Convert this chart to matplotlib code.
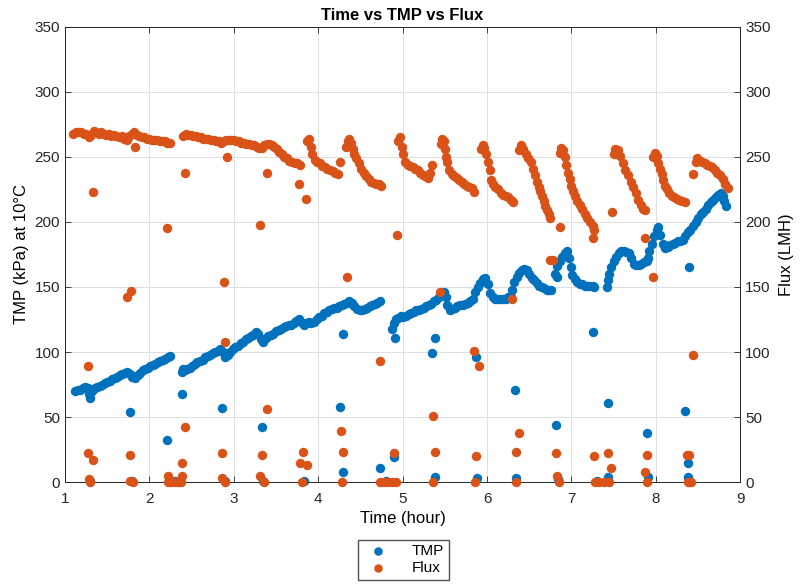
import numpy as np
import matplotlib.pyplot as plt

plt.rcParams['font.family'] = ['Liberation Sans', 'DejaVu Sans']

# TMP (kPa at 10C) - main trace, one list per run between cleanings
tmp_t1 = [1.12, 1.15, 1.18, 1.21, 1.24, 1.27, 1.29, 1.30, 1.32, 1.35, 1.38, 1.41, 1.44, 1.47, 1.50,
          1.53, 1.56, 1.59, 1.62, 1.65, 1.68, 1.71, 1.74, 1.77, 1.80, 1.83, 1.86, 1.89, 1.92, 1.95,
          1.98, 2.01, 2.04, 2.07, 2.10, 2.13, 2.16, 2.19, 2.22, 2.24]
tmp_v1 = [70, 71, 71, 72, 73, 72, 68, 65, 70, 72, 73, 74, 75, 76, 77,
          78, 79, 80, 81, 82, 83, 84, 85, 83, 81, 80, 82, 84, 86, 87,
          88, 89, 90, 91, 92, 93, 94, 95, 96, 97]

tmp_t2 = [2.39, 2.40, 2.42, 2.45, 2.48, 2.51, 2.54, 2.57, 2.60, 2.63, 2.66, 2.69, 2.72, 2.75, 2.78,
          2.81, 2.84, 2.87, 2.90, 2.93, 2.96, 2.99, 3.02, 3.05, 3.08, 3.11, 3.14, 3.17, 3.20, 3.23,
          3.26, 3.29, 3.32, 3.35, 3.38, 3.41, 3.44, 3.47, 3.50, 3.53, 3.56, 3.59, 3.62, 3.65, 3.68,
          3.71, 3.74, 3.77, 3.80, 3.83, 3.86, 3.89, 3.92, 3.95, 3.98, 4.01, 4.04, 4.07, 4.10, 4.13,
          4.16, 4.19, 4.22, 4.25, 4.28, 4.31, 4.34, 4.37, 4.40, 4.43, 4.46, 4.49, 4.52, 4.55, 4.58,
          4.61, 4.64, 4.67, 4.70, 4.73]
tmp_v2 = [85, 87, 86, 87, 88, 89, 91, 92, 93, 94, 96, 97, 98, 99, 100,
          101, 102, 100, 96, 98, 100, 102, 104, 105, 107, 108, 110, 111, 112, 113,
          115, 114, 110, 108, 111, 112, 113, 114, 116, 117, 118, 119, 120, 121, 121,
          122, 124, 125, 123, 121, 122, 123, 122, 123, 125, 127, 128, 130, 131, 132,
          133, 134, 134, 135, 136, 137, 138, 139, 138, 135, 133, 132, 132, 133, 134,
          135, 136, 137, 138, 139]

tmp_t3 = [4.88, 4.90, 4.92, 4.95, 4.98, 5.01, 5.04, 5.07, 5.10, 5.13, 5.16, 5.19, 5.22, 5.25, 5.28,
          5.31, 5.34, 5.37, 5.40, 5.43, 5.46, 5.49, 5.51, 5.53, 5.56, 5.59, 5.62, 5.65, 5.68, 5.71,
          5.74, 5.77, 5.80, 5.83, 5.86, 5.89, 5.92, 5.95, 5.98, 6.01, 6.04, 6.07, 6.10, 6.13, 6.16,
          6.19, 6.22, 6.25, 6.28, 6.30, 6.32, 6.35, 6.38, 6.41, 6.44, 6.47, 6.50, 6.53, 6.56, 6.59,
          6.62, 6.65, 6.68, 6.71, 6.74, 6.76]
tmp_v3 = [118, 122, 125, 126, 128, 127, 128, 129, 130, 131, 132, 132, 133, 134, 135,
          136, 137, 139, 140, 142, 144, 146, 142, 136, 132, 133, 134, 135, 136, 136,
          137, 138, 139, 141, 146, 150, 153, 156, 157, 152, 145, 142, 141, 141, 141,
          141, 141, 142, 142, 148, 154, 158, 161, 163, 164, 163, 160, 157, 155, 153,
          151, 150, 149, 148, 148, 148]

tmp_t4 = [6.80, 6.83, 6.86, 6.89, 6.92, 6.95, 6.97, 6.99, 7.01, 7.04, 7.07, 7.10, 7.13, 7.16, 7.19,
          7.22, 7.25, 7.27]
tmp_v4 = [160, 166, 170, 173, 176, 178, 172, 165, 159, 156, 154, 152, 152, 151, 151,
          151, 151, 150]

tmp_t5 = [7.42, 7.43, 7.45, 7.47, 7.50, 7.53, 7.56, 7.59, 7.62, 7.65, 7.68, 7.71, 7.74, 7.77, 7.80,
          7.83, 7.86, 7.89, 7.91]
tmp_v5 = [150, 155, 160, 165, 170, 173, 176, 178, 178, 177, 176, 172, 168, 167, 167,
          168, 169, 170, 172]

tmp_t6 = [7.92, 7.95, 7.98, 8.01, 8.03, 8.05, 8.08, 8.11, 8.14, 8.17, 8.20, 8.23, 8.26, 8.29, 8.32,
          8.35, 8.38, 8.41, 8.44, 8.47, 8.50, 8.53, 8.56, 8.59, 8.62, 8.65, 8.68, 8.71, 8.74, 8.77,
          8.79, 8.81, 8.83]
tmp_v6 = [178, 183, 189, 194, 196, 190, 183, 180, 181, 182, 183, 184, 185, 185, 186,
          189, 192, 194, 197, 200, 203, 206, 208, 210, 213, 215, 217, 219, 221, 222,
          220, 216, 212]

# TMP readings during backwash / restarts
tmp_out_t = [1.77, 2.21, 2.39, 2.86, 3.33, 4.26, 4.29, 4.29, 4.73, 4.90, 4.91, 5.35, 5.38, 5.38,
             5.87, 5.88, 6.33, 6.34, 6.82, 6.83, 7.26, 7.43, 7.43, 7.90, 7.91, 8.35, 8.38, 8.38,
             8.39, 1.30, 1.80, 2.30, 2.90, 3.35, 3.83, 4.80, 6.84, 7.30]
tmp_out_v = [54, 32, 68, 57, 42, 58, 114, 8, 11, 19, 111, 99, 111, 4,
             96, 3, 71, 3, 44, 158, 115, 61, 4, 38, 4, 55, 15, 4,
             165, 1, 1, 1, 1, 1, 1, 1, 2, 1]

# Flux (LMH) - main trace
flux_t1 = [1.10, 1.13, 1.16, 1.19, 1.22, 1.25, 1.28, 1.31, 1.34, 1.37, 1.40, 1.43, 1.46, 1.49, 1.52,
           1.55, 1.58, 1.61, 1.64, 1.67, 1.70, 1.73, 1.76, 1.79, 1.82, 1.85, 1.88, 1.91, 1.94, 1.97,
           2.00, 2.03, 2.06, 2.09, 2.12, 2.15, 2.18, 2.21, 2.24]
flux_v1 = [268, 269, 269, 269, 268, 268, 265, 267, 270, 269, 268, 269, 268, 267, 268,
           266, 267, 266, 265, 266, 264, 263, 266, 268, 269, 267, 266, 265, 265, 264,
           264, 263, 263, 263, 262, 262, 262, 261, 261]

flux_t2 = [2.40, 2.43, 2.46, 2.49, 2.52, 2.55, 2.58, 2.61, 2.64, 2.67, 2.70, 2.73, 2.76, 2.79, 2.82,
           2.85, 2.88, 2.91, 2.94, 2.97, 3.00, 3.03, 3.06, 3.09, 3.12, 3.15, 3.18, 3.21, 3.24, 3.27,
           3.30, 3.33, 3.36, 3.39, 3.42, 3.45, 3.48, 3.51, 3.54, 3.57, 3.60, 3.63, 3.66, 3.69, 3.72,
           3.75, 3.78]
flux_v2 = [266, 268, 267, 267, 266, 266, 265, 265, 264, 264, 264, 263, 263, 262, 262,
           261, 262, 263, 263, 263, 263, 262, 262, 261, 261, 260, 260, 259, 259, 258,
           257, 257, 259, 260, 260, 259, 258, 256, 254, 252, 250, 249, 247, 246, 245,
           245, 244]

flux_t3 = [3.87, 3.89, 3.91, 3.93, 3.96, 3.99, 4.02, 4.05, 4.08, 4.11, 4.14, 4.17, 4.20, 4.23]
flux_v3 = [262, 264, 258, 252, 248, 246, 245, 243, 242, 241, 240, 239, 238, 237]

flux_t4 = [4.33, 4.35, 4.37, 4.39, 4.41, 4.43, 4.45, 4.48, 4.51, 4.54, 4.57, 4.60, 4.63, 4.66, 4.69,
           4.72, 4.74]
flux_v4 = [258, 262, 264, 261, 256, 252, 249, 245, 241, 238, 235, 233, 231, 230, 229,
           229, 228]

flux_t5 = [4.95, 4.97, 4.99, 5.01, 5.03, 5.06, 5.09, 5.12, 5.15, 5.18, 5.21, 5.24, 5.27, 5.30, 5.33,
           5.35]
flux_v5 = [262, 265, 258, 252, 246, 244, 243, 242, 241, 240, 238, 236, 235, 234, 238,
           244]

flux_t6 = [5.45, 5.47, 5.49, 5.50, 5.51, 5.53, 5.55, 5.58, 5.61, 5.64, 5.67, 5.70, 5.73, 5.76, 5.79,
           5.82, 5.84]
flux_v6 = [260, 264, 262, 256, 250, 246, 240, 237, 235, 234, 232, 231, 229, 228, 227,
           226, 223]

flux_t7 = [5.93, 5.95, 5.97, 5.99, 6.01, 6.03, 6.05, 6.07, 6.10, 6.13, 6.16, 6.19, 6.22, 6.25, 6.28,
           6.31]
flux_v7 = [256, 259, 257, 252, 246, 240, 232, 229, 227, 225, 222, 221, 220, 219, 217,
           215]

flux_t8 = [6.38, 6.40, 6.43, 6.46, 6.49, 6.52, 6.55, 6.57, 6.59, 6.61, 6.63, 6.65, 6.67, 6.69, 6.71,
           6.73, 6.75]
flux_v8 = [255, 259, 256, 252, 249, 246, 241, 236, 231, 227, 224, 220, 216, 212, 209,
           206, 203]

flux_t9 = [6.86, 6.88, 6.90, 6.92, 6.94, 6.96, 6.98, 7.00, 7.02, 7.04, 7.07, 7.10, 7.13, 7.16, 7.19,
           7.22, 7.25, 7.27]
flux_v9 = [253, 257, 255, 250, 244, 238, 233, 228, 224, 220, 216, 213, 210, 206, 203,
           200, 197, 194]

flux_t10 = [7.50, 7.52, 7.55, 7.58, 7.61, 7.64, 7.67, 7.70, 7.73, 7.76, 7.79, 7.82, 7.85, 7.87]
flux_v10 = [252, 256, 255, 251, 245, 240, 236, 231, 227, 222, 217, 213, 210, 209]

flux_t11 = [7.97, 7.99, 8.01, 8.03, 8.05, 8.07, 8.09, 8.11, 8.13, 8.16, 8.19, 8.22, 8.25, 8.28, 8.31,
            8.34]
flux_v11 = [250, 253, 251, 245, 241, 237, 232, 228, 225, 222, 220, 219, 218, 217, 216,
            215]

flux_t12 = [8.47, 8.49, 8.52, 8.55, 8.58, 8.61, 8.64, 8.67, 8.70, 8.73, 8.76, 8.79, 8.82, 8.85]
flux_v12 = [246, 249, 247, 246, 245, 244, 243, 242, 240, 238, 236, 233, 229, 226]

# Flux readings during backwash / restarts
flux_out_t = [1.33, 1.83, 2.42, 2.21, 2.92, 3.31, 3.39, 3.77, 3.86, 4.26,
              1.27, 1.73, 1.78, 2.88, 2.90, 2.42, 3.39,
              1.27, 1.33, 1.30, 1.28, 1.77, 1.77, 1.81,
              2.22, 2.39, 2.39, 2.22, 2.26, 2.30, 2.34, 2.38,
              2.86, 2.86, 2.90, 3.33, 3.31, 3.36, 3.82, 3.78, 3.87, 3.81,
              4.34, 4.73, 4.93, 5.44, 5.36, 5.84, 5.91, 6.30, 6.38, 6.34, 6.34,
              4.27, 4.29, 4.28, 4.90, 4.73, 4.78, 4.83, 4.88, 4.92, 5.38, 5.36, 5.87, 5.86,
              6.75, 6.87, 6.78, 7.48, 7.26, 7.87, 7.97, 8.44, 8.44,
              6.82, 6.83, 6.85, 7.27, 7.43, 7.47, 7.28, 7.33, 7.38, 7.45,
              7.90, 7.87, 7.90, 8.37, 8.39, 8.38, 8.42]
flux_out_v = [223, 258, 238, 195, 250, 198, 238, 229, 218, 246,
              89, 142, 147, 154, 108, 42, 56,
              22, 17, 0, 2, 21, 1, 0,
              5, 15, 5, 0, 0, 0, 0, 0,
              22, 3, 0, 21, 5, 0, 23, 15, 13, 0,
              158, 93, 190, 146, 51, 101, 89, 141, 38, 23, 0,
              39, 23, 0, 22, 0, 0, 0, 0, 0, 23, 0, 20, 0,
              171, 196, 171, 208, 188, 188, 158, 237, 98,
              22, 5, 0, 20, 22, 11, 0, 0, 0, 0,
              21, 8, 0, 21, 21, 0, 0]

tmp_t = tmp_t1 + tmp_t2 + tmp_t3 + tmp_t4 + tmp_t5 + tmp_t6 + tmp_out_t
tmp_v = tmp_v1 + tmp_v2 + tmp_v3 + tmp_v4 + tmp_v5 + tmp_v6 + tmp_out_v
flux_t = (flux_t1 + flux_t2 + flux_t3 + flux_t4 + flux_t5 + flux_t6 + flux_t7 + flux_t8
          + flux_t9 + flux_t10 + flux_t11 + flux_t12 + flux_out_t)
flux_v = (flux_v1 + flux_v2 + flux_v3 + flux_v4 + flux_v5 + flux_v6 + flux_v7 + flux_v8
          + flux_v9 + flux_v10 + flux_v11 + flux_v12 + flux_out_v)

c_tmp = '#0072BD'
c_flux = '#D95319'
ms = 46

fig = plt.figure(figsize=(8.02, 5.85), dpi=100)
ax = fig.add_axes([0.081, 0.176, 0.842, 0.778])
ax2 = ax.twinx()

h1 = ax.scatter(tmp_t, tmp_v, s=ms, c=c_tmp, linewidths=0, clip_on=False, zorder=3, label='TMP')
h2 = ax2.scatter(flux_t, flux_v, s=ms, c=c_flux, linewidths=0, clip_on=False, zorder=3, label='Flux')

ticks_y = np.arange(0, 351, 50)
for a in (ax, ax2):
    a.set_ylim(0, 350)
    a.set_yticks(ticks_y)
    a.tick_params(direction='in', length=4, labelsize=11, colors='#262626', width=0.6)
    for sp in a.spines.values():
        sp.set_color('#262626')
        sp.set_linewidth(0.6)
ax.set_xlim(1, 9)
ax.set_xticks(np.arange(1, 10, 1))
ax.tick_params(axis='x', top=True, pad=7)
ax.grid(True, color='#dfdfdf', linewidth=0.7)
ax.set_axisbelow(True)

ax.set_xlabel('Time (hour)', fontsize=12, labelpad=4)
ax.set_ylabel('TMP (kPa) at 10°C', fontsize=12)
ax2.set_ylabel('Flux (LMH)', fontsize=12, labelpad=6)
ax.set_title('Time vs TMP vs Flux', fontsize=12, fontweight='bold', pad=5)

fig.legend([h1, h2], ['TMP', 'Flux'], loc='center', bbox_to_anchor=(0.503, 0.043),
           fontsize=11, frameon=True, fancybox=False, edgecolor='#262626',
           handletextpad=1.2, borderpad=0.3, labelspacing=0.2, markerscale=0.9)

fig.savefig('out.png', dpi=100)
